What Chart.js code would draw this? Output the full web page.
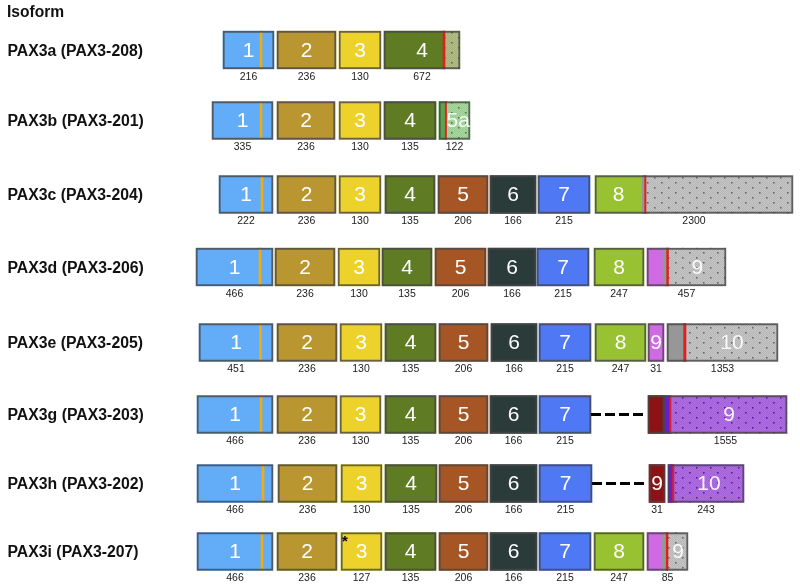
<!DOCTYPE html>
<html>
<head>
<meta charset="utf-8">
<script src="https://cdn.jsdelivr.net/npm/chart.js@4.4.1/dist/chart.umd.min.js"></script>
<style>
  html, body { margin: 0; padding: 0; background: #ffffff; }
  #wrap { width: 800px; height: 588px; position: relative; }
</style>
</head>
<body>
<div id="wrap"><canvas id="c" width="800" height="588"></canvas></div>
<script>
// ---------------- DATA ----------------
const isoforms = ['PAX3a (PAX3-208)', 'PAX3b (PAX3-201)', 'PAX3c (PAX3-204)', 'PAX3d (PAX3-206)',
                  'PAX3e (PAX3-205)', 'PAX3g (PAX3-203)', 'PAX3h (PAX3-202)', 'PAX3i (PAX3-207)'];
// vertical track of each isoform (diagram units)
const trackY = [50, 120.5, 194.5, 267, 342.5, 414.5, 483.5, 551.5];

// exon boxes: [from, to, length label]
const boxesA = [[223,274,216],[277,336,236],[339,381,130],[384,460,672]];
const boxesB = [[212,273,335],[277,335,236],[339,381,130],[384,436,135],[439,470,122]];
const boxesC = [[219,273,222],[277,336,236],[339,381,130],[385,435,135],[438,488,206],[490,536,166],[538,590,215],[595,793,2300]];
const boxesD = [[196,273,466],[275,335,236],[338,380,130],[382,432,135],[435,486,206],[488,536,166],[537,589,215],[594,644,247],[647,726,457]];
const boxesE = [[199,273,451],[277,337,236],[340,382,130],[385,436,135],[439,488,206],[491,537,166],[539,591,215],[595,646,247],[648,664,31],[667,778,1353]];
const boxesG = [[197,273,466],[277,337,236],[340,381,130],[385,436,135],[439,488,206],[490,537,166],[539,591,215],[648,664,''],[664,787,1555]];
const boxesH = [[197,273,466],[278,337,236],[341,382,130],[385,437,135],[439,488,206],[490,537,166],[539,592,215],[649,665,31],[668,744,243]];
const boxesI = [[197,273,466],[277,337,236],[341,382,127],[385,436,135],[439,488,206],[490,537,166],[539,591,215],[594,644,247],[647,688,85]];

// exon parts: [from, to, kind, exon number]
const partsA = [[223,274,'e1','1'],[260,262,'orange',''],[277,336,'e2','2'],[339,381,'e3','3'],[384,443,'e4',''],[443,445,'red',''],[445,460,'oliveDot',''],[384,460,'none','4']];
const partsB = [[212,273,'e1','1'],[260,262,'orange',''],[277,335,'e2','2'],[339,381,'e3','3'],[384,436,'e4','4'],[439,444.5,'greenStrip',''],[444.5,446.5,'red',''],[446.5,470,'greenDot','5a']];
const partsC = [[219,273,'e1','1'],[261,263,'orange',''],[277,336,'e2','2'],[339,381,'e3','3'],[385,435,'e4','4'],[438,488,'e5','5'],[490,536,'e6','6'],[538,590,'e7','7'],[595,642,'e8','8'],[642,644,'grey',''],[644,646,'red',''],[646,793,'greyDot','']];
const partsD = [[196,273,'e1','1'],[259,261,'orange',''],[275,335,'e2','2'],[338,380,'e3','3'],[382,432,'e4','4'],[435,486,'e5','5'],[488,536,'e6','6'],[537,589,'e7','7'],[594,644,'e8','8'],[647,663,'mag',''],[663,666,'grey',''],[666,668.5,'red',''],[668.5,726,'greyDot','9']];
const partsE = [[199,273,'e1','1'],[259.5,261.5,'orange',''],[277,337,'e2','2'],[340,382,'e3','3'],[385,436,'e4','4'],[439,488,'e5','5'],[491,537,'e6','6'],[539,591,'e7','7'],[595,646,'e8','8'],[648,664,'mag','9'],[667,683,'grey',''],[683,686,'red',''],[686,778,'greyDot','10']];
const partsG = [[197,273,'e1','1'],[260,262,'orange',''],[277,337,'e2','2'],[340,381,'e3','3'],[385,436,'e4','4'],[439,488,'e5','5'],[490,537,'e6','6'],[539,591,'e7','7'],[648,664,'darkRed',''],[664,669,'purpleStrip',''],[669,671,'red',''],[671,787,'purpleDot','9']];
const partsH = [[197,273,'e1','1'],[262,264,'orange',''],[278,337,'e2','2'],[341,382,'e3','3'],[385,437,'e4','4'],[439,488,'e5','5'],[490,537,'e6','6'],[539,592,'e7','7'],[649,665,'darkRed','9'],[668,672,'purpleStrip',''],[672,674,'red',''],[674,744,'purpleDot','10']];
const partsI = [[197,273,'e1','1'],[261,263,'orange',''],[277,337,'e2','2'],[341,382,'e3','3'],[385,436,'e4','4'],[439,488,'e5','5'],[490,537,'e6','6'],[539,591,'e7','7'],[594,644,'e8','8'],[647,662,'mag',''],[662,665.5,'grey',''],[665.5,668,'red',''],[668,688,'greyDot','9']];

// skipped-exon connectors: [isoform index, from, to]
const connectors = [[5, 591, 647], [6, 592, 648]];
// marked exon (asterisk): [isoform index, x]
const starMarks = [[7, 345]];

const allBoxes = [boxesA, boxesB, boxesC, boxesD, boxesE, boxesG, boxesH, boxesI];
const allParts = [partsA, partsB, partsC, partsD, partsE, partsG, partsH, partsI];

// ---------------- STYLES ----------------
const FONT = 'Arial, "Liberation Sans", sans-serif';
const probe = document.getElementById('c').getContext('2d');
function makePattern(base, dot) {
  const c = document.createElement('canvas');
  c.width = 14; c.height = 10;
  const g = c.getContext('2d');
  g.fillStyle = base; g.fillRect(0, 0, 14, 10);
  g.fillStyle = 'rgba(0,0,0,0.08)';
  for (let yy = 0; yy < 10; yy++) for (let xx = yy % 2; xx < 14; xx += 2) g.fillRect(xx, yy, 1, 1);
  g.fillStyle = dot;
  g.fillRect(3, 2, 1.6, 1.6);
  g.fillRect(10, 7, 1.6, 1.6);
  return probe.createPattern(c, 'repeat');
}
const kindStyle = {
  e1: { color: '#63acf8', order: 3 },
  e2: { color: '#b9962f', order: 3 },
  e3: { color: '#ecd22b', order: 3 },
  e4: { color: '#5f7b23', order: 3 },
  e5: { color: '#a65624', order: 3 },
  e6: { color: '#2b3b3a', order: 3 },
  e7: { color: '#4f78f5', order: 3 },
  e8: { color: '#99c232', order: 3 },
  mag: { color: '#cf69e4', order: 3 },
  darkRed: { color: '#8c1214', order: 3 },
  greyDot: { color: makePattern('#c6c6c6', '#6a6a6a'), order: 3 },
  purpleDot: { color: makePattern('#b06ce6', '#5f17a8'), order: 3 },
  greenDot: { color: makePattern('#a9d9a0', '#3f8a3a'), order: 3 },
  oliveDot: { color: makePattern('#b3bf86', '#5f6e32'), order: 3 },
  grey: { color: '#979797', order: 2 },
  greenStrip: { color: '#58a64a', order: 2 },
  purpleStrip: { color: '#6a1ec8', order: 2 },
  orange: { color: '#f2ac0c', order: 2 },
  red: { color: '#e0201e', order: 2 }
};

// ---------------- DATASETS ----------------
const datasets = [];
Object.keys(kindStyle).forEach(kind => {
  const data = [];
  allParts.forEach((parts, r) => parts.forEach(p => {
    if (p[2] === kind) data.push({ y: trackY[r], x: [p[0], p[1]] });
  }));
  datasets.push({
    type: 'bar', label: kind, data,
    backgroundColor: kindStyle[kind].color,
    borderWidth: 0, order: kindStyle[kind].order
  });
});
const outlineData = [];
allBoxes.forEach((boxes, r) => boxes.forEach(b => outlineData.push({ y: trackY[r], x: [b[0], b[1]] })));
datasets.push({
  type: 'bar', label: 'outline', data: outlineData,
  backgroundColor: 'rgba(0,0,0,0)', borderColor: 'rgba(70,70,70,0.8)',
  borderWidth: 1.3, borderSkipped: false, order: 1
});
connectors.forEach(cn => {
  datasets.push({
    type: 'line', label: 'skip', indexAxis: 'x',
    data: [{ x: cn[1], y: trackY[cn[0]] }, { x: cn[2], y: trackY[cn[0]] }],
    borderColor: '#000000', borderWidth: 3.2, borderDash: [10, 4],
    pointRadius: 0, fill: false, order: 0
  });
});

// ---------------- TEXT PLUGIN ----------------
const textPlugin = {
  id: 'texts',
  afterDatasetsDraw(chart) {
    const ctx = chart.ctx, xs = chart.scales.x, ys = chart.scales.y;
    ctx.save();
    // title
    ctx.fillStyle = '#111111';
    ctx.font = 'bold 15.6px ' + FONT;
    ctx.textAlign = 'left'; ctx.textBaseline = 'middle';
    ctx.fillText('Isoform', xs.getPixelForValue(7), ys.getPixelForValue(13));
    // isoform names
    ctx.font = 'bold 15.8px ' + FONT;
    isoforms.forEach((name, r) => {
      ctx.fillText(name, xs.getPixelForValue(7.5), ys.getPixelForValue(trackY[r] + 1.5));
    });
    // exon numbers
    ctx.font = '21px ' + FONT;
    ctx.textAlign = 'center';
    allParts.forEach((parts, r) => parts.forEach(p => {
      if (!p[3]) return;
      ctx.fillStyle = (p[2].indexOf('Dot') >= 0) ? 'rgba(255,255,255,0.92)' : '#ffffff';
      ctx.fillText(p[3], xs.getPixelForValue((p[0] + p[1]) / 2), ys.getPixelForValue(trackY[r] + 1));
    }));
    // exon lengths
    ctx.font = '10.5px ' + FONT;
    ctx.fillStyle = '#1a1a1a';
    allBoxes.forEach((boxes, r) => boxes.forEach(b => {
      if (b[2] === '') return;
      ctx.fillText(String(b[2]), xs.getPixelForValue((b[0] + b[1]) / 2), ys.getPixelForValue(trackY[r] + 27));
    }));
    // asterisk
    ctx.font = 'bold 15px ' + FONT;
    ctx.fillStyle = '#000000';
    starMarks.forEach(s => {
      ctx.fillText('*', xs.getPixelForValue(s[1]), ys.getPixelForValue(trackY[s[0]] - 10));
    });
    ctx.restore();
  }
};

new Chart(document.getElementById('c'), {
  type: 'bar',
  data: { datasets },
  options: {
    responsive: false,
    animation: false,
    indexAxis: 'y',
    layout: { padding: 0 },
    datasets: { bar: { barThickness: 38, grouped: false } },
    plugins: { legend: { display: false }, tooltip: { enabled: false }, title: { display: false } },
    scales: {
      x: { type: 'linear', min: 0, max: 800, offset: false, display: false },
      y: { type: 'linear', min: 0, max: 588, reverse: true, offset: false, display: false }
    }
  },
  plugins: [textPlugin]
});
</script>
</body>
</html>
